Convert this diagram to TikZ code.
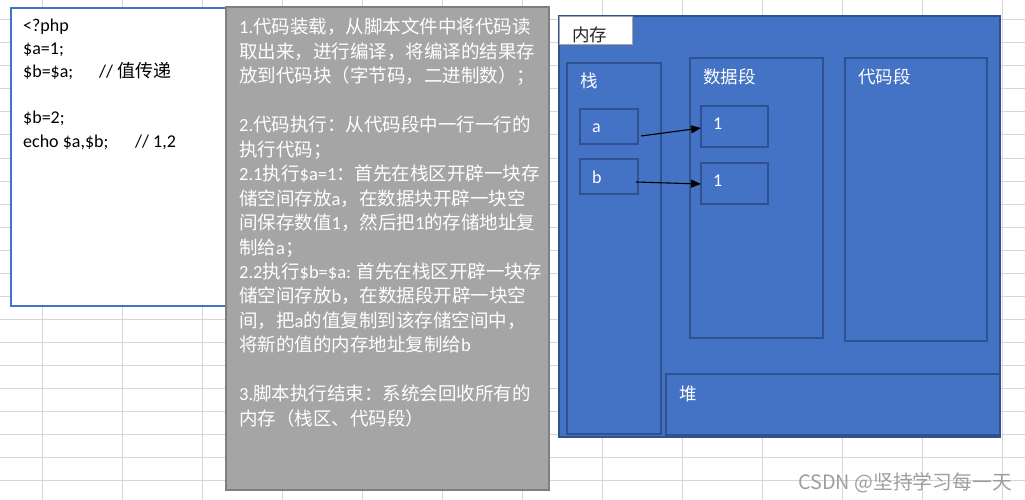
\documentclass[tikz,border=0pt]{standalone}
\usepackage{fontspec}
\setmainfont{Carlito}
\newfontfamily\cjk{Noto Sans CJK SC}
\newfontfamily\lat{Carlito}
\usetikzlibrary{arrows.meta}
\definecolor{accent}{HTML}{4472C4}
\definecolor{accentdark}{HTML}{2F528F}
\definecolor{gridgray}{HTML}{D6D6D6}
\definecolor{notegray}{HTML}{A5A5A5}
\definecolor{noteborder}{HTML}{7F7F7F}
\definecolor{tabborder}{HTML}{A6A6A6}
\begin{document}
\begin{tikzpicture}[x=1pt,y=-1pt,
  gridline/.style={draw=gridgray, line width=1pt},
  region/.style={draw=accentdark, line width=1.6pt, fill=accent, inner sep=0pt, outer sep=0pt, anchor=north west},
  codebox/.style={draw=accent, line width=1.6pt, fill=white, inner sep=0pt, outer sep=0pt, anchor=north west},
  notebox/.style={draw=noteborder, line width=2pt, fill=notegray, inner sep=0pt, outer sep=0pt, anchor=north west},
  tabbox/.style={draw=tabborder, line width=0.8pt, fill=white, inner sep=0pt, outer sep=0pt, anchor=north west},
  codetext/.style={anchor=base west, inner sep=0pt, font=\fontsize{18pt}{22pt}\selectfont, text=black},
  notetext/.style={anchor=base west, inner sep=0pt, font=\cjk\fontsize{18.5pt}{24pt}\selectfont, text=white},
  cnlabel/.style={anchor=base west, inner sep=0pt, font=\cjk\fontsize{17.5pt}{20pt}\selectfont, text=white},
  latlabel/.style={anchor=base west, inner sep=0pt, font=\fontsize{18pt}{20pt}\selectfont, text=white},
  pointer/.style={draw=black, line width=1.1pt, -{Triangle[length=10pt,width=8pt]}},
]
\useasboundingbox (0,0) rectangle (1025,500);
\fill[white] (0,0) rectangle (1025,500);
% spreadsheet grid
\foreach \k in {0,...,12} \draw[gridline] (42.7+80*\k,0) -- (42.7+80*\k,500);
\foreach \k in {0,...,20} \draw[gridline] (0,20+23*\k) -- (1025,20+23*\k);

% code box
\node[codebox, minimum width=222pt, minimum height=298pt] (code) at (11,8) {};
\node[codetext] (c1) at (23,32) {<?php};
\node[codetext] (c2) at (23,55) {\$a=1;};
\node[codetext] (c3) at (23,78) {\$b=\$a;};
\node[codetext] (c3c) at (99,78) {// {\cjk 值传递}};
\node[codetext] (c4) at (23,124) {\$b=2;};
\node[codetext] (c5) at (23,147) {echo \$a,\$b;};
\node[codetext] (c5c) at (135,147) {// 1,2};

% explanation box
\node[notebox, minimum width=323pt, minimum height=483pt] (note) at (226,7) {};
\node[notetext] (g1) at (239,34) {{\lat 1.}代码装载，从脚本文件中将代码读};
\node[notetext] (g2) at (239,58.45) {取出来，进行编译，将编译的结果存};
\node[notetext] (g3) at (239,82.9) {放到代码块（字节码，二进制数）；};
\node[notetext] (g5) at (239,131.8) {{\lat 2.}代码执行：从代码段中一行一行的};
\node[notetext] (g6) at (239,156.25) {执行代码；};
\node[notetext] (g7) at (239,180.7) {{\lat 2.1}执行{\lat\$a=1}：首先在栈区开辟一块存};
\node[notetext] (g8) at (239,205.15) {储空间存放{\lat a}，在数据块开辟一块空};
\node[notetext] (g9) at (239,229.6) {间保存数值{\lat 1}，然后把{\lat 1}的存储地址复};
\node[notetext] (g10) at (239,254.05) {制给{\lat a}；};
\node[notetext] (g11) at (239,278.5) {{\lat 2.2}执行{\lat\$b=\$a: }首先在栈区开辟一块存};
\node[notetext] (g12) at (239,302.95) {储空间存放{\lat b}，在数据段开辟一块空};
\node[notetext] (g13) at (239,327.4) {间，把{\lat a}的值复制到该存储空间中，};
\node[notetext] (g14) at (239,351.85) {将新的值的内存地址复制给{\lat b}};
\node[notetext] (g16) at (239,400.75) {{\lat 3.}脚本执行结束：系统会回收所有的};
\node[notetext] (g17) at (239,425.2) {内存（栈区、代码段）};

% memory
\node[region, line width=2pt, minimum width=441pt, minimum height=421pt] (mem) at (559,16) {};
\node[tabbox, minimum width=73pt, minimum height=28pt] (tab) at (559,16) {};
\node[anchor=base west, inner sep=0pt, font=\cjk\fontsize{17.5pt}{20pt}\selectfont, text=black!85] (tabl) at (572,42) {内存};

\node[region, minimum width=94pt, minimum height=371pt] (stack) at (567,63) {};
\node[cnlabel] (stackl) at (580,88) {栈};
\node[region, minimum width=58pt, minimum height=35pt] (a) at (580,109) {};
\node[latlabel] (al) at (592,132) {a};
\node[region, minimum width=58pt, minimum height=35pt] (b) at (580,159) {};
\node[latlabel] (bl) at (592,183) {b};

\node[region, minimum width=133pt, minimum height=280pt] (data) at (690,58) {};
\node[cnlabel] (datal) at (703,84) {数据段};
\node[region, minimum width=67pt, minimum height=41pt] (d1) at (701,106) {};
\node[latlabel] (d1l) at (713,129) {1};
\node[region, minimum width=67pt, minimum height=41pt] (d2) at (701,163) {};
\node[latlabel] (d2l) at (713,186) {1};

\node[region, minimum width=142pt, minimum height=283pt] (cseg) at (845,58) {};
\node[cnlabel] (csegl) at (858,84) {代码段};

\node[region, line width=2pt, minimum width=334pt, minimum height=61pt] (heap) at (666,374) {};
\node[cnlabel] (heapl) at (679,400) {堆};

\draw[pointer] ([shift={(3,9.5)}]a.east) -- ([shift={(0,1.5)}]d1.west);
\draw[pointer] ([shift={(-2,5.5)}]b.east) -- ([shift={(0,0.5)}]d2.west);

% watermark
\node[anchor=base west, inner sep=0pt, font=\cjk\fontsize{19.8pt}{22pt}\selectfont, text=black!38] (wm) at (798,489) {CSDN @坚持学习每一天};
\end{tikzpicture}
\end{document}
